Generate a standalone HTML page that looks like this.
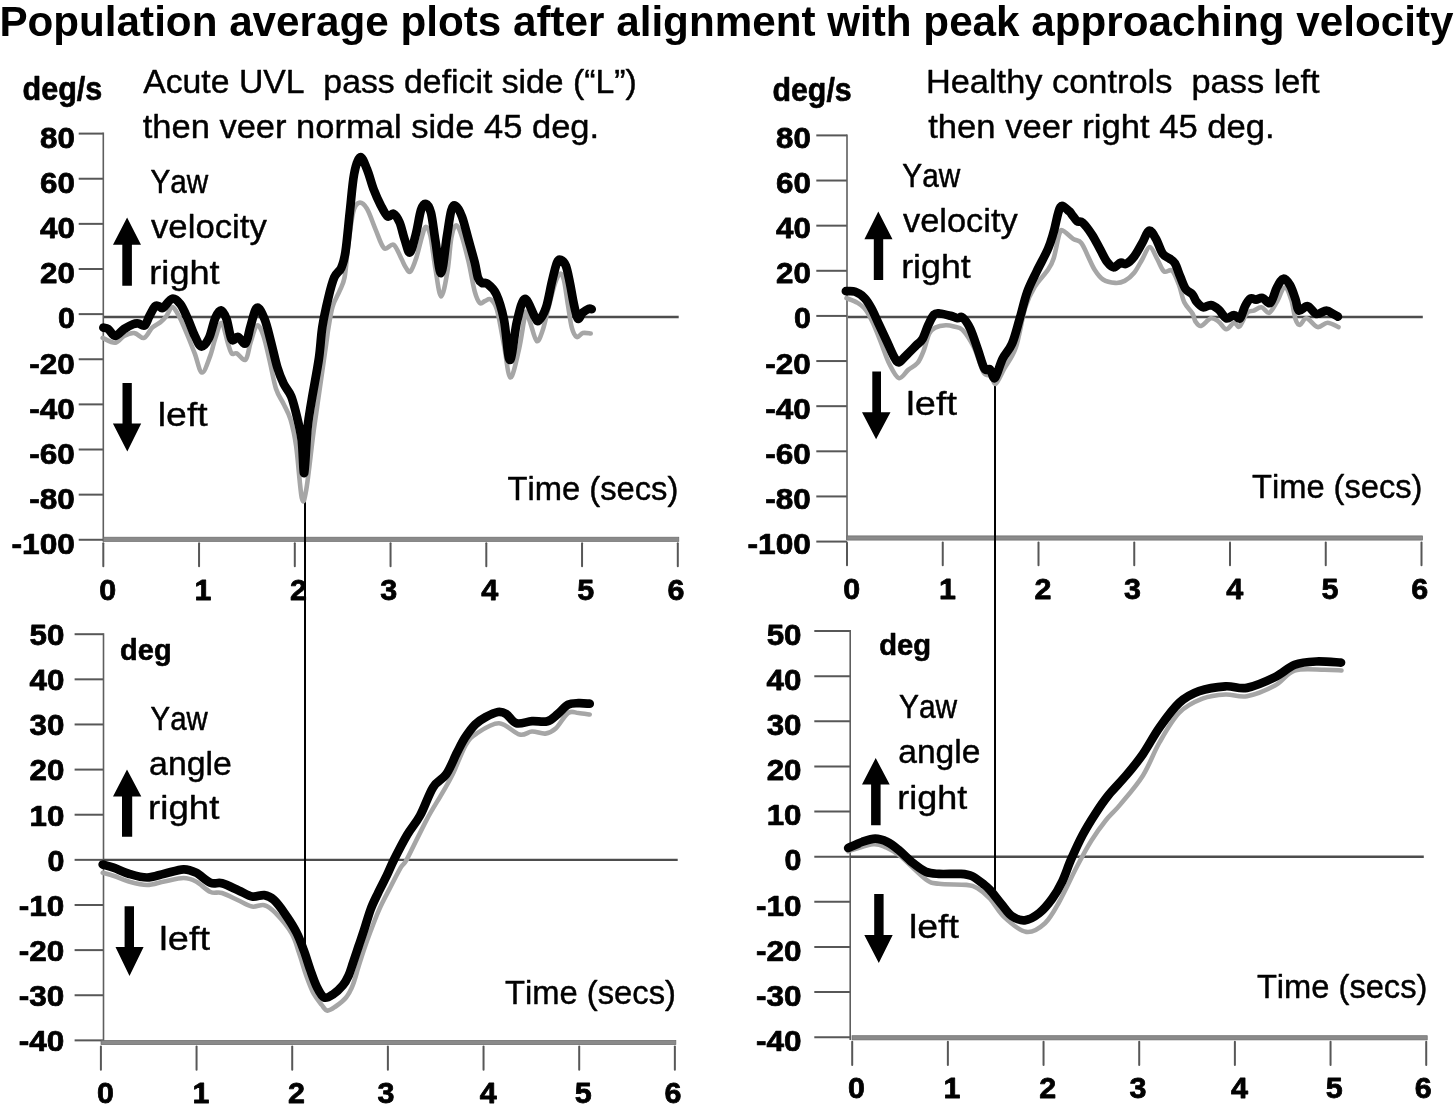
<!DOCTYPE html><html><head><meta charset="utf-8"><style>html,body{margin:0;padding:0;background:#fff;width:1455px;height:1106px;overflow:hidden}svg{display:block}text{font-family:"Liberation Sans",sans-serif;font-kerning:none;white-space:pre}</style></head><body>
<svg width="1455" height="1106" viewBox="0 0 1455 1106">
<rect width="1455" height="1106" fill="#fff"/>
<g opacity="0.999">
<line x1="78.70" y1="133.60" x2="103.30" y2="133.60" stroke="#575757" stroke-width="2"/>
<line x1="78.70" y1="178.73" x2="103.30" y2="178.73" stroke="#575757" stroke-width="2"/>
<line x1="78.70" y1="223.86" x2="103.30" y2="223.86" stroke="#575757" stroke-width="2"/>
<line x1="78.70" y1="268.99" x2="103.30" y2="268.99" stroke="#575757" stroke-width="2"/>
<line x1="78.70" y1="314.12" x2="103.30" y2="314.12" stroke="#575757" stroke-width="2"/>
<line x1="78.70" y1="359.25" x2="103.30" y2="359.25" stroke="#575757" stroke-width="2"/>
<line x1="78.70" y1="404.38" x2="103.30" y2="404.38" stroke="#575757" stroke-width="2"/>
<line x1="78.70" y1="449.51" x2="103.30" y2="449.51" stroke="#575757" stroke-width="2"/>
<line x1="78.70" y1="494.64" x2="103.30" y2="494.64" stroke="#575757" stroke-width="2"/>
<line x1="78.70" y1="539.77" x2="103.30" y2="539.77" stroke="#575757" stroke-width="2"/>
<line x1="103.30" y1="132.60" x2="103.30" y2="541.50" stroke="#5e5e5e" stroke-width="1.6"/>
<rect x="103.30" y="537.20" width="575.50" height="4.2" fill="#8a8a8a" stroke="#6a6a6a" stroke-width="0.7"/>
<line x1="103.30" y1="543.30" x2="103.30" y2="566.20" stroke="#575757" stroke-width="2" stroke-linecap="round"/>
<line x1="199.05" y1="543.30" x2="199.05" y2="566.20" stroke="#575757" stroke-width="2" stroke-linecap="round"/>
<line x1="294.80" y1="543.30" x2="294.80" y2="566.20" stroke="#575757" stroke-width="2" stroke-linecap="round"/>
<line x1="390.55" y1="543.30" x2="390.55" y2="566.20" stroke="#575757" stroke-width="2" stroke-linecap="round"/>
<line x1="486.30" y1="543.30" x2="486.30" y2="566.20" stroke="#575757" stroke-width="2" stroke-linecap="round"/>
<line x1="582.05" y1="543.30" x2="582.05" y2="566.20" stroke="#575757" stroke-width="2" stroke-linecap="round"/>
<line x1="677.80" y1="543.30" x2="677.80" y2="566.20" stroke="#575757" stroke-width="2" stroke-linecap="round"/>
<line x1="104.00" y1="317.00" x2="678.70" y2="317.00" stroke="#4d4d4d" stroke-width="2.4"/>
<text transform="translate(40.04 147.90) scale(1.0700 1)" font-size="29.28" font-weight="bold" fill="#000" stroke="#000" stroke-width="0.75" stroke-linejoin="round">80</text>
<text transform="translate(40.04 193.03) scale(1.0699 1)" font-size="29.28" font-weight="bold" fill="#000" stroke="#000" stroke-width="0.75" stroke-linejoin="round">60</text>
<text transform="translate(40.02 238.16) scale(1.0704 1)" font-size="29.28" font-weight="bold" fill="#000" stroke="#000" stroke-width="0.75" stroke-linejoin="round">40</text>
<text transform="translate(40.04 283.29) scale(1.0700 1)" font-size="29.28" font-weight="bold" fill="#000" stroke="#000" stroke-width="0.75" stroke-linejoin="round">20</text>
<text transform="translate(57.93 328.42) scale(1.0389 1)" font-size="29.28" font-weight="bold" fill="#000" stroke="#000" stroke-width="0.77" stroke-linejoin="round">0</text>
<text transform="translate(29.34 373.55) scale(1.0763 1)" font-size="29.28" font-weight="bold" fill="#000" stroke="#000" stroke-width="0.74" stroke-linejoin="round">-20</text>
<text transform="translate(29.34 418.68) scale(1.0763 1)" font-size="29.28" font-weight="bold" fill="#000" stroke="#000" stroke-width="0.74" stroke-linejoin="round">-40</text>
<text transform="translate(29.34 463.81) scale(1.0763 1)" font-size="29.28" font-weight="bold" fill="#000" stroke="#000" stroke-width="0.74" stroke-linejoin="round">-60</text>
<text transform="translate(29.34 508.94) scale(1.0763 1)" font-size="29.28" font-weight="bold" fill="#000" stroke="#000" stroke-width="0.74" stroke-linejoin="round">-80</text>
<text transform="translate(11.49 554.07) scale(1.0821 1)" font-size="29.28" font-weight="bold" fill="#000" stroke="#000" stroke-width="0.74" stroke-linejoin="round">-100</text>
<text transform="translate(99.16 599.80) scale(1.0389 1)" font-size="29.28" font-weight="bold" fill="#000" stroke="#000" stroke-width="0.77" stroke-linejoin="round">0</text>
<text transform="translate(194.62 599.80) scale(1.0376 1)" font-size="29.28" font-weight="bold" fill="#000" stroke="#000" stroke-width="0.77" stroke-linejoin="round">1</text>
<text transform="translate(290.12 599.80) scale(1.0396 1)" font-size="29.28" font-weight="bold" fill="#000" stroke="#000" stroke-width="0.77" stroke-linejoin="round">2</text>
<text transform="translate(380.22 599.80) scale(1.0413 1)" font-size="29.28" font-weight="bold" fill="#000" stroke="#000" stroke-width="0.77" stroke-linejoin="round">3</text>
<text transform="translate(481.34 599.80) scale(1.0453 1)" font-size="29.28" font-weight="bold" fill="#000" stroke="#000" stroke-width="0.77" stroke-linejoin="round">4</text>
<text transform="translate(577.18 599.80) scale(1.0414 1)" font-size="29.28" font-weight="bold" fill="#000" stroke="#000" stroke-width="0.77" stroke-linejoin="round">5</text>
<text transform="translate(667.53 599.80) scale(1.0398 1)" font-size="29.28" font-weight="bold" fill="#000" stroke="#000" stroke-width="0.77" stroke-linejoin="round">6</text>
<line x1="816.30" y1="135.40" x2="847.00" y2="135.40" stroke="#575757" stroke-width="2"/>
<line x1="816.30" y1="180.53" x2="847.00" y2="180.53" stroke="#575757" stroke-width="2"/>
<line x1="816.30" y1="225.66" x2="847.00" y2="225.66" stroke="#575757" stroke-width="2"/>
<line x1="816.30" y1="270.79" x2="847.00" y2="270.79" stroke="#575757" stroke-width="2"/>
<line x1="816.30" y1="315.92" x2="847.00" y2="315.92" stroke="#575757" stroke-width="2"/>
<line x1="816.30" y1="361.05" x2="847.00" y2="361.05" stroke="#575757" stroke-width="2"/>
<line x1="816.30" y1="406.18" x2="847.00" y2="406.18" stroke="#575757" stroke-width="2"/>
<line x1="816.30" y1="451.31" x2="847.00" y2="451.31" stroke="#575757" stroke-width="2"/>
<line x1="816.30" y1="496.44" x2="847.00" y2="496.44" stroke="#575757" stroke-width="2"/>
<line x1="816.30" y1="541.57" x2="847.00" y2="541.57" stroke="#575757" stroke-width="2"/>
<line x1="847.00" y1="134.40" x2="847.00" y2="540.00" stroke="#5e5e5e" stroke-width="1.6"/>
<rect x="847.00" y="535.90" width="575.50" height="4.2" fill="#8a8a8a" stroke="#6a6a6a" stroke-width="0.7"/>
<line x1="847.00" y1="542.50" x2="847.00" y2="565.20" stroke="#575757" stroke-width="2" stroke-linecap="round"/>
<line x1="942.75" y1="542.50" x2="942.75" y2="565.20" stroke="#575757" stroke-width="2" stroke-linecap="round"/>
<line x1="1038.50" y1="542.50" x2="1038.50" y2="565.20" stroke="#575757" stroke-width="2" stroke-linecap="round"/>
<line x1="1134.25" y1="542.50" x2="1134.25" y2="565.20" stroke="#575757" stroke-width="2" stroke-linecap="round"/>
<line x1="1230.00" y1="542.50" x2="1230.00" y2="565.20" stroke="#575757" stroke-width="2" stroke-linecap="round"/>
<line x1="1325.75" y1="542.50" x2="1325.75" y2="565.20" stroke="#575757" stroke-width="2" stroke-linecap="round"/>
<line x1="1421.50" y1="542.50" x2="1421.50" y2="565.20" stroke="#575757" stroke-width="2" stroke-linecap="round"/>
<line x1="848.00" y1="317.00" x2="1422.80" y2="317.00" stroke="#4d4d4d" stroke-width="2.4"/>
<text transform="translate(776.04 147.90) scale(1.0700 1)" font-size="29.28" font-weight="bold" fill="#000" stroke="#000" stroke-width="0.75" stroke-linejoin="round">80</text>
<text transform="translate(776.04 193.03) scale(1.0699 1)" font-size="29.28" font-weight="bold" fill="#000" stroke="#000" stroke-width="0.75" stroke-linejoin="round">60</text>
<text transform="translate(776.02 238.16) scale(1.0704 1)" font-size="29.28" font-weight="bold" fill="#000" stroke="#000" stroke-width="0.75" stroke-linejoin="round">40</text>
<text transform="translate(776.04 283.29) scale(1.0700 1)" font-size="29.28" font-weight="bold" fill="#000" stroke="#000" stroke-width="0.75" stroke-linejoin="round">20</text>
<text transform="translate(793.93 328.42) scale(1.0389 1)" font-size="29.28" font-weight="bold" fill="#000" stroke="#000" stroke-width="0.77" stroke-linejoin="round">0</text>
<text transform="translate(765.34 373.55) scale(1.0763 1)" font-size="29.28" font-weight="bold" fill="#000" stroke="#000" stroke-width="0.74" stroke-linejoin="round">-20</text>
<text transform="translate(765.34 418.68) scale(1.0763 1)" font-size="29.28" font-weight="bold" fill="#000" stroke="#000" stroke-width="0.74" stroke-linejoin="round">-40</text>
<text transform="translate(765.34 463.81) scale(1.0763 1)" font-size="29.28" font-weight="bold" fill="#000" stroke="#000" stroke-width="0.74" stroke-linejoin="round">-60</text>
<text transform="translate(765.34 508.94) scale(1.0763 1)" font-size="29.28" font-weight="bold" fill="#000" stroke="#000" stroke-width="0.74" stroke-linejoin="round">-80</text>
<text transform="translate(747.49 554.07) scale(1.0821 1)" font-size="29.28" font-weight="bold" fill="#000" stroke="#000" stroke-width="0.74" stroke-linejoin="round">-100</text>
<text transform="translate(843.16 598.70) scale(1.0389 1)" font-size="29.28" font-weight="bold" fill="#000" stroke="#000" stroke-width="0.77" stroke-linejoin="round">0</text>
<text transform="translate(939.02 598.70) scale(1.0376 1)" font-size="29.28" font-weight="bold" fill="#000" stroke="#000" stroke-width="0.77" stroke-linejoin="round">1</text>
<text transform="translate(1034.62 598.70) scale(1.0396 1)" font-size="29.28" font-weight="bold" fill="#000" stroke="#000" stroke-width="0.77" stroke-linejoin="round">2</text>
<text transform="translate(1124.12 598.70) scale(1.0413 1)" font-size="29.28" font-weight="bold" fill="#000" stroke="#000" stroke-width="0.77" stroke-linejoin="round">3</text>
<text transform="translate(1226.14 598.70) scale(1.0453 1)" font-size="29.28" font-weight="bold" fill="#000" stroke="#000" stroke-width="0.77" stroke-linejoin="round">4</text>
<text transform="translate(1321.38 598.70) scale(1.0414 1)" font-size="29.28" font-weight="bold" fill="#000" stroke="#000" stroke-width="0.77" stroke-linejoin="round">5</text>
<text transform="translate(1411.13 598.70) scale(1.0398 1)" font-size="29.28" font-weight="bold" fill="#000" stroke="#000" stroke-width="0.77" stroke-linejoin="round">6</text>
<line x1="74.60" y1="634.20" x2="103.50" y2="634.20" stroke="#575757" stroke-width="2"/>
<line x1="74.60" y1="679.33" x2="103.50" y2="679.33" stroke="#575757" stroke-width="2"/>
<line x1="74.60" y1="724.46" x2="103.50" y2="724.46" stroke="#575757" stroke-width="2"/>
<line x1="74.60" y1="769.59" x2="103.50" y2="769.59" stroke="#575757" stroke-width="2"/>
<line x1="74.60" y1="814.72" x2="103.50" y2="814.72" stroke="#575757" stroke-width="2"/>
<line x1="74.60" y1="859.85" x2="103.50" y2="859.85" stroke="#575757" stroke-width="2"/>
<line x1="74.60" y1="904.98" x2="103.50" y2="904.98" stroke="#575757" stroke-width="2"/>
<line x1="74.60" y1="950.11" x2="103.50" y2="950.11" stroke="#575757" stroke-width="2"/>
<line x1="74.60" y1="995.24" x2="103.50" y2="995.24" stroke="#575757" stroke-width="2"/>
<line x1="74.60" y1="1040.37" x2="103.50" y2="1040.37" stroke="#575757" stroke-width="2"/>
<line x1="103.50" y1="633.20" x2="103.50" y2="1044.00" stroke="#5e5e5e" stroke-width="1.6"/>
<rect x="101.00" y="1040.40" width="574.86" height="4.2" fill="#8a8a8a" stroke="#6a6a6a" stroke-width="0.7"/>
<line x1="100.90" y1="1046.50" x2="100.90" y2="1069.70" stroke="#575757" stroke-width="2" stroke-linecap="round"/>
<line x1="196.56" y1="1046.50" x2="196.56" y2="1069.70" stroke="#575757" stroke-width="2" stroke-linecap="round"/>
<line x1="292.22" y1="1046.50" x2="292.22" y2="1069.70" stroke="#575757" stroke-width="2" stroke-linecap="round"/>
<line x1="387.88" y1="1046.50" x2="387.88" y2="1069.70" stroke="#575757" stroke-width="2" stroke-linecap="round"/>
<line x1="483.54" y1="1046.50" x2="483.54" y2="1069.70" stroke="#575757" stroke-width="2" stroke-linecap="round"/>
<line x1="579.20" y1="1046.50" x2="579.20" y2="1069.70" stroke="#575757" stroke-width="2" stroke-linecap="round"/>
<line x1="674.86" y1="1046.50" x2="674.86" y2="1069.70" stroke="#575757" stroke-width="2" stroke-linecap="round"/>
<line x1="103.50" y1="859.90" x2="677.70" y2="859.90" stroke="#4d4d4d" stroke-width="2.4"/>
<text transform="translate(29.54 645.00) scale(1.0701 1)" font-size="29.28" font-weight="bold" fill="#000" stroke="#000" stroke-width="0.75" stroke-linejoin="round">50</text>
<text transform="translate(29.52 690.13) scale(1.0704 1)" font-size="29.28" font-weight="bold" fill="#000" stroke="#000" stroke-width="0.75" stroke-linejoin="round">40</text>
<text transform="translate(29.53 735.26) scale(1.0702 1)" font-size="29.28" font-weight="bold" fill="#000" stroke="#000" stroke-width="0.75" stroke-linejoin="round">30</text>
<text transform="translate(29.54 780.39) scale(1.0700 1)" font-size="29.28" font-weight="bold" fill="#000" stroke="#000" stroke-width="0.75" stroke-linejoin="round">20</text>
<text transform="translate(29.56 825.52) scale(1.0692 1)" font-size="29.28" font-weight="bold" fill="#000" stroke="#000" stroke-width="0.75" stroke-linejoin="round">10</text>
<text transform="translate(47.43 870.65) scale(1.0389 1)" font-size="29.28" font-weight="bold" fill="#000" stroke="#000" stroke-width="0.77" stroke-linejoin="round">0</text>
<text transform="translate(18.84 915.78) scale(1.0763 1)" font-size="29.28" font-weight="bold" fill="#000" stroke="#000" stroke-width="0.74" stroke-linejoin="round">-10</text>
<text transform="translate(18.84 960.91) scale(1.0763 1)" font-size="29.28" font-weight="bold" fill="#000" stroke="#000" stroke-width="0.74" stroke-linejoin="round">-20</text>
<text transform="translate(18.84 1006.04) scale(1.0763 1)" font-size="29.28" font-weight="bold" fill="#000" stroke="#000" stroke-width="0.74" stroke-linejoin="round">-30</text>
<text transform="translate(18.84 1051.17) scale(1.0763 1)" font-size="29.28" font-weight="bold" fill="#000" stroke="#000" stroke-width="0.74" stroke-linejoin="round">-40</text>
<text transform="translate(96.96 1102.50) scale(1.0389 1)" font-size="29.28" font-weight="bold" fill="#000" stroke="#000" stroke-width="0.77" stroke-linejoin="round">0</text>
<text transform="translate(192.42 1102.50) scale(1.0376 1)" font-size="29.28" font-weight="bold" fill="#000" stroke="#000" stroke-width="0.77" stroke-linejoin="round">1</text>
<text transform="translate(288.02 1102.50) scale(1.0396 1)" font-size="29.28" font-weight="bold" fill="#000" stroke="#000" stroke-width="0.77" stroke-linejoin="round">2</text>
<text transform="translate(377.52 1102.50) scale(1.0413 1)" font-size="29.28" font-weight="bold" fill="#000" stroke="#000" stroke-width="0.77" stroke-linejoin="round">3</text>
<text transform="translate(479.64 1102.50) scale(1.0453 1)" font-size="29.28" font-weight="bold" fill="#000" stroke="#000" stroke-width="0.77" stroke-linejoin="round">4</text>
<text transform="translate(574.78 1102.50) scale(1.0414 1)" font-size="29.28" font-weight="bold" fill="#000" stroke="#000" stroke-width="0.77" stroke-linejoin="round">5</text>
<text transform="translate(664.53 1102.50) scale(1.0398 1)" font-size="29.28" font-weight="bold" fill="#000" stroke="#000" stroke-width="0.77" stroke-linejoin="round">6</text>
<line x1="814.30" y1="631.00" x2="850.20" y2="631.00" stroke="#575757" stroke-width="2"/>
<line x1="814.30" y1="676.13" x2="850.20" y2="676.13" stroke="#575757" stroke-width="2"/>
<line x1="814.30" y1="721.26" x2="850.20" y2="721.26" stroke="#575757" stroke-width="2"/>
<line x1="814.30" y1="766.39" x2="850.20" y2="766.39" stroke="#575757" stroke-width="2"/>
<line x1="814.30" y1="811.52" x2="850.20" y2="811.52" stroke="#575757" stroke-width="2"/>
<line x1="814.30" y1="856.65" x2="850.20" y2="856.65" stroke="#575757" stroke-width="2"/>
<line x1="814.30" y1="901.78" x2="850.20" y2="901.78" stroke="#575757" stroke-width="2"/>
<line x1="814.30" y1="946.91" x2="850.20" y2="946.91" stroke="#575757" stroke-width="2"/>
<line x1="814.30" y1="992.04" x2="850.20" y2="992.04" stroke="#575757" stroke-width="2"/>
<line x1="814.30" y1="1037.17" x2="850.20" y2="1037.17" stroke="#575757" stroke-width="2"/>
<line x1="850.20" y1="630.00" x2="850.20" y2="1040.00" stroke="#5e5e5e" stroke-width="1.6"/>
<rect x="852.00" y="1035.70" width="575.22" height="4.2" fill="#8a8a8a" stroke="#6a6a6a" stroke-width="0.7"/>
<line x1="852.20" y1="1041.80" x2="852.20" y2="1064.90" stroke="#575757" stroke-width="2" stroke-linecap="round"/>
<line x1="947.87" y1="1041.80" x2="947.87" y2="1064.90" stroke="#575757" stroke-width="2" stroke-linecap="round"/>
<line x1="1043.54" y1="1041.80" x2="1043.54" y2="1064.90" stroke="#575757" stroke-width="2" stroke-linecap="round"/>
<line x1="1139.21" y1="1041.80" x2="1139.21" y2="1064.90" stroke="#575757" stroke-width="2" stroke-linecap="round"/>
<line x1="1234.88" y1="1041.80" x2="1234.88" y2="1064.90" stroke="#575757" stroke-width="2" stroke-linecap="round"/>
<line x1="1330.55" y1="1041.80" x2="1330.55" y2="1064.90" stroke="#575757" stroke-width="2" stroke-linecap="round"/>
<line x1="1426.22" y1="1041.80" x2="1426.22" y2="1064.90" stroke="#575757" stroke-width="2" stroke-linecap="round"/>
<line x1="850.00" y1="856.80" x2="1423.80" y2="856.80" stroke="#4d4d4d" stroke-width="2.4"/>
<text transform="translate(766.64 644.80) scale(1.0701 1)" font-size="29.28" font-weight="bold" fill="#000" stroke="#000" stroke-width="0.75" stroke-linejoin="round">50</text>
<text transform="translate(766.62 689.93) scale(1.0704 1)" font-size="29.28" font-weight="bold" fill="#000" stroke="#000" stroke-width="0.75" stroke-linejoin="round">40</text>
<text transform="translate(766.63 735.06) scale(1.0702 1)" font-size="29.28" font-weight="bold" fill="#000" stroke="#000" stroke-width="0.75" stroke-linejoin="round">30</text>
<text transform="translate(766.64 780.19) scale(1.0700 1)" font-size="29.28" font-weight="bold" fill="#000" stroke="#000" stroke-width="0.75" stroke-linejoin="round">20</text>
<text transform="translate(766.66 825.32) scale(1.0692 1)" font-size="29.28" font-weight="bold" fill="#000" stroke="#000" stroke-width="0.75" stroke-linejoin="round">10</text>
<text transform="translate(784.53 870.45) scale(1.0389 1)" font-size="29.28" font-weight="bold" fill="#000" stroke="#000" stroke-width="0.77" stroke-linejoin="round">0</text>
<text transform="translate(755.94 915.58) scale(1.0763 1)" font-size="29.28" font-weight="bold" fill="#000" stroke="#000" stroke-width="0.74" stroke-linejoin="round">-10</text>
<text transform="translate(755.94 960.71) scale(1.0763 1)" font-size="29.28" font-weight="bold" fill="#000" stroke="#000" stroke-width="0.74" stroke-linejoin="round">-20</text>
<text transform="translate(755.94 1005.84) scale(1.0763 1)" font-size="29.28" font-weight="bold" fill="#000" stroke="#000" stroke-width="0.74" stroke-linejoin="round">-30</text>
<text transform="translate(755.94 1050.97) scale(1.0763 1)" font-size="29.28" font-weight="bold" fill="#000" stroke="#000" stroke-width="0.74" stroke-linejoin="round">-40</text>
<text transform="translate(847.96 1098.10) scale(1.0389 1)" font-size="29.28" font-weight="bold" fill="#000" stroke="#000" stroke-width="0.77" stroke-linejoin="round">0</text>
<text transform="translate(943.62 1098.10) scale(1.0376 1)" font-size="29.28" font-weight="bold" fill="#000" stroke="#000" stroke-width="0.77" stroke-linejoin="round">1</text>
<text transform="translate(1039.32 1098.10) scale(1.0396 1)" font-size="29.28" font-weight="bold" fill="#000" stroke="#000" stroke-width="0.77" stroke-linejoin="round">2</text>
<text transform="translate(1129.62 1098.10) scale(1.0413 1)" font-size="29.28" font-weight="bold" fill="#000" stroke="#000" stroke-width="0.77" stroke-linejoin="round">3</text>
<text transform="translate(1230.94 1098.10) scale(1.0453 1)" font-size="29.28" font-weight="bold" fill="#000" stroke="#000" stroke-width="0.77" stroke-linejoin="round">4</text>
<text transform="translate(1325.68 1098.10) scale(1.0414 1)" font-size="29.28" font-weight="bold" fill="#000" stroke="#000" stroke-width="0.77" stroke-linejoin="round">5</text>
<text transform="translate(1414.73 1098.10) scale(1.0398 1)" font-size="29.28" font-weight="bold" fill="#000" stroke="#000" stroke-width="0.77" stroke-linejoin="round">6</text>
<line x1="305.00" y1="492.00" x2="305.00" y2="959.00" stroke="#000" stroke-width="2"/>
<line x1="995.00" y1="380.00" x2="995.00" y2="890.00" stroke="#000" stroke-width="2"/>
<path d="M102.70 337.90 C104.77 338.70 111.53 343.03 115.10 342.70 C118.67 342.37 120.88 337.50 124.10 335.90 C127.32 334.30 131.08 332.77 134.40 333.10 C137.72 333.43 141.03 338.82 144.00 337.90 C146.97 336.98 149.45 330.23 152.20 327.60 C154.95 324.97 158.20 323.93 160.50 322.10 C162.80 320.27 164.05 319.12 166.00 316.60 C167.95 314.08 170.25 307.45 172.20 307.00 C174.15 306.55 175.98 311.15 177.70 313.90 C179.42 316.65 180.78 319.73 182.50 323.50 C184.22 327.27 185.95 331.47 188.00 336.50 C190.05 341.53 192.47 347.70 194.80 353.70 C197.13 359.70 199.43 372.13 202.00 372.50 C204.57 372.87 207.98 361.62 210.20 355.90 C212.42 350.18 213.40 343.68 215.30 338.20 C217.20 332.72 219.50 322.17 221.60 323.00 C223.70 323.83 226.22 338.13 227.90 343.20 C229.58 348.27 230.22 351.70 231.70 353.40 C233.18 355.10 234.48 352.35 236.80 353.40 C239.12 354.45 243.28 361.60 245.60 359.70 C247.92 357.80 248.80 347.70 250.70 342.00 C252.60 336.30 254.88 326.57 257.00 325.50 C259.12 324.43 261.28 329.68 263.40 335.60 C265.52 341.52 267.60 352.13 269.70 361.00 C271.80 369.87 273.68 381.63 276.00 388.80 C278.32 395.97 281.18 398.90 283.60 404.00 C286.02 409.10 288.40 412.32 290.50 419.40 C292.60 426.48 294.32 433.40 296.20 446.50 C298.08 459.60 300.12 490.85 301.80 498.00 C303.48 505.15 304.42 499.87 306.30 489.40 C308.18 478.93 311.35 448.58 313.10 435.20 C314.85 421.82 314.62 424.30 316.80 409.10 C318.98 393.90 324.28 357.38 326.20 344.00 C328.12 330.62 327.23 335.05 328.30 328.80 C329.37 322.55 330.73 312.78 332.60 306.50 C334.47 300.22 337.50 295.97 339.50 291.10 C341.50 286.23 343.17 284.75 344.60 277.30 C346.03 269.85 346.67 257.27 348.10 246.40 C349.53 235.53 351.35 219.38 353.20 212.10 C355.05 204.82 356.90 203.27 359.20 202.70 C361.50 202.13 364.28 204.27 367.00 208.70 C369.72 213.13 372.65 222.72 375.50 229.30 C378.35 235.88 381.08 245.63 384.10 248.20 C387.12 250.77 390.73 242.98 393.60 244.70 C396.47 246.42 399.32 254.78 401.30 258.50 C403.28 262.22 403.98 264.83 405.50 267.00 C407.02 269.17 408.57 273.13 410.40 271.50 C412.23 269.87 414.53 263.17 416.50 257.20 C418.47 251.23 420.63 240.77 422.20 235.70 C423.77 230.63 424.53 226.80 425.90 226.80 C427.27 226.80 428.82 228.73 430.40 235.70 C431.98 242.67 433.62 258.47 435.40 268.60 C437.18 278.73 439.08 296.08 441.10 296.50 C443.12 296.92 445.80 280.82 447.50 271.10 C449.20 261.38 449.93 245.78 451.30 238.20 C452.67 230.62 454.12 226.43 455.70 225.60 C457.28 224.77 458.68 227.30 460.80 233.20 C462.92 239.10 466.08 251.30 468.40 261.00 C470.72 270.70 472.78 284.38 474.70 291.40 C476.62 298.42 478.18 301.50 479.90 303.10 C481.62 304.70 483.18 301.60 485.00 301.00 C486.82 300.40 488.80 298.03 490.80 299.50 C492.80 300.97 494.80 302.22 497.00 309.80 C499.20 317.38 501.77 333.72 504.00 345.00 C506.23 356.28 507.92 376.73 510.40 377.50 C512.88 378.27 516.67 358.90 518.90 349.60 C521.13 340.30 522.65 328.05 523.80 321.70 C524.95 315.35 524.77 311.45 525.80 311.50 C526.83 311.55 528.18 317.08 530.00 322.00 C531.82 326.92 534.62 339.53 536.70 341.00 C538.78 342.47 540.62 336.02 542.50 330.80 C544.38 325.58 545.93 317.53 548.00 309.70 C550.07 301.87 552.92 289.78 554.90 283.80 C556.88 277.82 558.40 274.47 559.90 273.80 C561.40 273.13 562.57 274.65 563.90 279.80 C565.23 284.95 566.58 296.73 567.90 304.70 C569.22 312.67 570.32 322.22 571.80 327.60 C573.28 332.98 574.97 336.10 576.80 337.00 C578.63 337.90 580.48 333.58 582.80 333.00 C585.12 332.42 589.38 333.42 590.70 333.50" fill="none" stroke="#a6a6a6" stroke-width="4.60" stroke-linecap="round" stroke-linejoin="round"/>
<path d="M103.40 327.60 C104.20 327.83 106.25 327.62 108.20 329.00 C110.15 330.38 112.45 335.90 115.10 335.90 C117.75 335.90 121.12 330.95 124.10 329.00 C127.08 327.05 130.60 325.12 133.00 324.20 C135.40 323.28 136.55 323.28 138.50 323.50 C140.45 323.72 142.87 326.77 144.70 325.50 C146.53 324.23 147.78 319.10 149.50 315.90 C151.22 312.70 153.40 307.90 155.00 306.30 C156.60 304.70 157.73 306.07 159.10 306.30 C160.47 306.53 161.02 308.97 163.20 307.70 C165.38 306.43 169.33 299.28 172.20 298.70 C175.07 298.12 177.77 300.75 180.40 304.20 C183.03 307.65 185.60 314.12 188.00 319.40 C190.40 324.68 192.58 331.38 194.80 335.90 C197.02 340.42 198.95 346.12 201.30 346.50 C203.65 346.88 206.57 342.97 208.90 338.20 C211.23 333.43 213.28 322.55 215.30 317.90 C217.32 313.25 219.12 310.08 221.00 310.30 C222.88 310.52 224.82 314.35 226.60 319.20 C228.38 324.05 229.80 336.45 231.70 339.40 C233.60 342.35 235.68 336.27 238.00 336.90 C240.32 337.53 243.48 345.10 245.60 343.20 C247.72 341.30 248.80 331.40 250.70 325.50 C252.60 319.60 254.68 308.85 257.00 307.80 C259.32 306.75 262.27 313.50 264.60 319.20 C266.93 324.90 268.88 333.98 271.00 342.00 C273.12 350.02 275.20 360.35 277.30 367.30 C279.40 374.25 281.28 378.85 283.60 383.70 C285.92 388.55 288.92 390.65 291.20 396.40 C293.48 402.15 295.53 410.80 297.30 418.20 C299.07 425.60 300.65 431.67 301.80 440.80 C302.95 449.93 303.25 475.13 304.20 473.00 C305.15 470.87 306.25 440.17 307.50 428.00 C308.75 415.83 309.80 411.58 311.70 400.00 C313.60 388.42 317.13 370.65 318.90 358.50 C320.67 346.35 320.73 337.20 322.30 327.10 C323.87 317.00 326.30 306.20 328.30 297.90 C330.30 289.60 332.15 282.30 334.30 277.30 C336.45 272.30 339.33 272.18 341.20 267.90 C343.07 263.62 344.07 260.90 345.50 251.60 C346.93 242.30 348.37 224.98 349.80 212.10 C351.23 199.22 352.38 183.45 354.10 174.30 C355.82 165.15 357.95 158.05 360.10 157.20 C362.25 156.35 364.72 163.77 367.00 169.20 C369.28 174.63 371.52 183.80 373.80 189.80 C376.08 195.80 378.40 200.77 380.70 205.20 C383.00 209.63 385.45 214.97 387.60 216.40 C389.75 217.83 391.60 212.80 393.60 213.80 C395.60 214.80 397.75 218.10 399.60 222.40 C401.45 226.70 402.98 234.60 404.70 239.60 C406.42 244.60 408.02 253.42 409.90 252.40 C411.78 251.38 414.15 240.57 416.00 233.50 C417.85 226.43 419.35 214.92 421.00 210.00 C422.65 205.08 424.23 203.52 425.90 204.00 C427.57 204.48 429.42 206.77 431.00 212.90 C432.58 219.03 433.72 230.78 435.40 240.80 C437.08 250.82 439.20 273.63 441.10 273.00 C443.00 272.37 445.10 247.43 446.80 237.00 C448.50 226.57 449.82 215.57 451.30 210.40 C452.78 205.23 453.92 204.95 455.70 206.00 C457.48 207.05 459.88 211.12 462.00 216.70 C464.12 222.28 466.28 231.90 468.40 239.50 C470.52 247.10 473.08 255.88 474.70 262.30 C476.32 268.72 476.88 274.55 478.10 278.00 C479.32 281.45 480.50 282.08 482.00 283.00 C483.50 283.92 484.73 281.67 487.10 283.50 C489.47 285.33 493.38 287.95 496.20 294.00 C499.02 300.05 501.72 308.80 504.00 319.80 C506.28 330.80 507.75 359.68 509.90 360.00 C512.05 360.32 514.42 331.87 516.90 321.70 C519.38 311.53 521.82 299.82 524.80 299.00 C527.78 298.18 532.48 313.22 534.80 316.80 C537.12 320.38 536.83 322.02 538.70 320.50 C540.57 318.98 543.80 314.15 546.00 307.70 C548.20 301.25 550.08 289.27 551.90 281.80 C553.72 274.33 555.40 266.55 556.90 262.90 C558.40 259.25 559.40 259.40 560.90 259.90 C562.40 260.40 564.40 262.08 565.90 265.90 C567.40 269.72 568.58 276.50 569.90 282.80 C571.22 289.10 572.48 297.73 573.80 303.70 C575.12 309.67 576.30 317.12 577.80 318.60 C579.30 320.08 580.97 314.25 582.80 312.60 C584.63 310.95 587.32 309.27 588.80 308.70 C590.28 308.13 591.22 309.12 591.70 309.20" fill="none" stroke="#000" stroke-width="8.70" stroke-linecap="round" stroke-linejoin="round"/>
<path d="M102.70 872.80 C104.62 873.33 109.87 874.55 114.20 876.00 C118.53 877.45 123.23 880.00 128.70 881.50 C134.17 883.00 141.07 885.00 147.00 885.00 C152.93 885.00 158.22 882.67 164.30 881.50 C170.38 880.33 178.22 878.00 183.50 878.00 C188.78 878.00 191.50 879.17 196.00 881.50 C200.50 883.83 206.17 890.08 210.50 892.00 C214.83 893.92 217.32 891.58 222.00 893.00 C226.68 894.42 233.58 898.23 238.60 900.50 C243.62 902.77 247.82 905.82 252.10 906.60 C256.38 907.38 260.45 904.18 264.30 905.20 C268.15 906.22 270.65 908.02 275.20 912.70 C279.75 917.38 287.63 926.62 291.60 933.30 C295.57 939.98 296.55 945.75 299.00 952.80 C301.45 959.85 303.87 968.82 306.30 975.60 C308.73 982.38 311.03 988.62 313.60 993.50 C316.17 998.38 319.40 1002.05 321.70 1004.90 C324.00 1007.75 325.08 1010.33 327.40 1010.60 C329.72 1010.87 332.48 1008.68 335.60 1006.50 C338.72 1004.32 343.25 1001.03 346.10 997.50 C348.95 993.97 350.67 990.32 352.70 985.30 C354.73 980.28 356.42 973.37 358.30 967.40 C360.18 961.43 362.00 955.40 364.00 949.50 C366.00 943.60 367.75 938.72 370.30 932.00 C372.85 925.28 376.10 916.38 379.30 909.20 C382.50 902.02 385.88 895.90 389.50 888.90 C393.12 881.90 398.07 872.20 401.00 867.20 C403.93 862.20 402.83 866.80 407.10 858.90 C411.37 851.00 420.82 830.65 426.60 819.80 C432.38 808.95 437.45 801.38 441.80 793.80 C446.15 786.22 448.72 782.43 452.70 774.30 C456.68 766.17 461.72 751.80 465.70 745.00 C469.68 738.20 471.05 737.12 476.60 733.50 C482.15 729.88 491.83 723.12 499.00 723.30 C506.17 723.48 514.10 733.23 519.60 734.60 C525.10 735.97 527.70 731.67 532.00 731.50 C536.30 731.33 541.45 734.10 545.40 733.60 C549.35 733.10 551.92 731.93 555.70 728.50 C559.48 725.07 564.32 715.58 568.10 713.00 C571.88 710.42 574.80 712.75 578.40 713.00 C582.00 713.25 587.82 714.25 589.70 714.50" fill="none" stroke="#a6a6a6" stroke-width="4.60" stroke-linecap="round" stroke-linejoin="round"/>
<path d="M102.70 864.50 C104.62 865.07 109.87 866.37 114.20 867.90 C118.53 869.43 123.23 872.10 128.70 873.70 C134.17 875.30 141.07 877.50 147.00 877.50 C152.93 877.50 158.22 875.07 164.30 873.70 C170.38 872.33 178.22 869.47 183.50 869.30 C188.78 869.13 191.50 870.45 196.00 872.70 C200.50 874.95 206.17 881.03 210.50 882.80 C214.83 884.57 217.32 882.03 222.00 883.30 C226.68 884.57 233.58 888.20 238.60 890.40 C243.62 892.60 247.82 895.72 252.10 896.50 C256.38 897.28 260.68 894.55 264.30 895.10 C267.92 895.65 270.40 896.75 273.80 899.80 C277.20 902.85 280.92 907.97 284.70 913.40 C288.48 918.83 293.32 926.25 296.50 932.40 C299.68 938.55 301.50 944.05 303.80 950.30 C306.10 956.55 308.12 963.78 310.30 969.90 C312.48 976.02 314.58 982.40 316.90 987.00 C319.22 991.60 321.50 996.28 324.20 997.50 C326.90 998.72 329.98 996.33 333.10 994.30 C336.22 992.27 340.32 988.42 342.90 985.30 C345.48 982.18 346.92 979.32 348.60 975.60 C350.28 971.88 351.35 967.85 353.00 963.00 C354.65 958.15 356.63 952.05 358.50 946.50 C360.37 940.95 362.17 935.92 364.20 929.70 C366.23 923.48 368.42 915.27 370.70 909.20 C372.98 903.13 375.25 898.85 377.90 893.30 C380.55 887.75 383.90 881.53 386.60 875.90 C389.30 870.27 390.68 866.32 394.10 859.50 C397.52 852.68 402.77 842.33 407.10 835.00 C411.43 827.67 415.77 823.45 420.10 815.50 C424.43 807.55 428.75 794.17 433.10 787.30 C437.45 780.43 442.22 780.08 446.20 774.30 C450.18 768.52 453.87 758.70 457.00 752.60 C460.13 746.50 461.95 742.42 465.00 737.70 C468.05 732.98 471.87 727.73 475.30 724.30 C478.73 720.87 481.82 719.15 485.60 717.10 C489.38 715.05 494.57 712.52 498.00 712.00 C501.43 711.48 503.12 712.12 506.20 714.00 C509.28 715.88 512.20 722.10 516.50 723.30 C520.80 724.50 526.83 721.55 532.00 721.20 C537.17 720.85 543.20 722.40 547.50 721.20 C551.80 720.00 554.37 716.75 557.80 714.00 C561.23 711.25 564.67 706.50 568.10 704.70 C571.53 702.90 574.80 703.37 578.40 703.20 C582.00 703.03 587.82 703.62 589.70 703.70" fill="none" stroke="#000" stroke-width="8.70" stroke-linecap="round" stroke-linejoin="round"/>
<path d="M846.50 298.20 C848.35 298.98 854.37 300.93 857.60 302.90 C860.83 304.87 863.35 306.67 865.90 310.00 C868.45 313.33 870.37 317.42 872.90 322.90 C875.43 328.38 878.35 336.05 881.10 342.90 C883.85 349.75 886.45 358.13 889.40 364.00 C892.35 369.87 895.67 377.12 898.80 378.10 C901.93 379.08 905.07 372.43 908.20 369.90 C911.33 367.37 915.05 366.03 917.60 362.90 C920.15 359.77 921.55 356.00 923.50 351.10 C925.45 346.20 927.35 337.42 929.30 333.50 C931.25 329.58 932.45 328.98 935.20 327.60 C937.95 326.22 942.67 325.38 945.80 325.20 C948.93 325.02 951.20 325.70 954.00 326.50 C956.80 327.30 959.27 326.48 962.60 330.00 C965.93 333.52 970.52 340.55 974.00 347.60 C977.48 354.65 980.65 367.55 983.50 372.30 C986.35 377.05 989.05 374.20 991.10 376.10 C993.15 378.00 993.58 384.97 995.80 383.70 C998.02 382.43 1001.07 374.52 1004.40 368.50 C1007.73 362.48 1012.33 357.73 1015.80 347.60 C1019.27 337.47 1022.05 317.83 1025.20 307.70 C1028.35 297.57 1030.90 293.13 1034.70 286.80 C1038.50 280.47 1044.83 274.45 1048.00 269.70 C1051.17 264.95 1051.80 264.30 1053.70 258.30 C1055.60 252.30 1057.82 238.28 1059.40 233.70 C1060.98 229.12 1060.92 229.95 1063.20 230.80 C1065.48 231.65 1070.08 236.78 1073.10 238.80 C1076.12 240.82 1078.80 239.95 1081.30 242.90 C1083.80 245.85 1085.85 251.98 1088.10 256.50 C1090.35 261.02 1092.32 266.17 1094.80 270.00 C1097.28 273.83 1099.60 277.35 1103.00 279.50 C1106.40 281.65 1111.58 282.67 1115.20 282.90 C1118.82 283.13 1121.53 282.58 1124.70 280.90 C1127.87 279.22 1131.27 276.42 1134.20 272.80 C1137.13 269.18 1139.70 263.50 1142.30 259.20 C1144.90 254.90 1147.30 247.00 1149.80 247.00 C1152.30 247.00 1154.93 255.13 1157.30 259.20 C1159.67 263.27 1161.52 269.48 1164.00 271.40 C1166.48 273.32 1169.70 268.43 1172.20 270.70 C1174.70 272.97 1176.97 279.68 1179.00 285.00 C1181.03 290.32 1182.15 297.85 1184.40 302.60 C1186.65 307.35 1190.65 310.33 1192.50 313.50 C1194.35 316.67 1194.08 319.52 1195.50 321.60 C1196.92 323.68 1198.43 326.55 1201.00 326.00 C1203.57 325.45 1207.97 319.03 1210.90 318.30 C1213.83 317.57 1216.03 319.77 1218.60 321.60 C1221.17 323.43 1223.73 329.12 1226.30 329.30 C1228.87 329.48 1231.80 323.17 1234.00 322.70 C1236.20 322.23 1237.30 328.15 1239.50 326.50 C1241.70 324.85 1244.82 315.45 1247.20 312.80 C1249.58 310.15 1251.42 311.52 1253.80 310.60 C1256.18 309.68 1258.93 306.93 1261.50 307.30 C1264.07 307.67 1266.63 313.72 1269.20 312.80 C1271.77 311.88 1274.33 306.02 1276.90 301.80 C1279.47 297.58 1282.22 287.87 1284.60 287.50 C1286.98 287.13 1289.37 294.28 1291.20 299.60 C1293.03 304.92 1294.13 315.18 1295.60 319.40 C1297.07 323.62 1298.17 325.08 1300.00 324.90 C1301.83 324.72 1303.67 317.93 1306.60 318.30 C1309.53 318.67 1314.12 326.37 1317.60 327.10 C1321.08 327.83 1324.02 322.70 1327.50 322.70 C1330.98 322.70 1336.67 326.37 1338.50 327.10" fill="none" stroke="#a6a6a6" stroke-width="4.60" stroke-linecap="round" stroke-linejoin="round"/>
<path d="M845.90 291.20 C847.47 291.28 852.17 290.53 855.30 291.70 C858.43 292.87 861.97 295.35 864.70 298.20 C867.43 301.05 869.35 304.48 871.70 308.80 C874.05 313.12 876.25 318.62 878.80 324.10 C881.35 329.58 884.45 336.22 887.00 341.70 C889.55 347.18 892.13 353.57 894.10 357.00 C896.07 360.43 896.85 362.50 898.80 362.30 C900.75 362.10 902.87 358.65 905.80 355.80 C908.73 352.95 913.65 347.95 916.40 345.20 C919.15 342.45 920.33 342.63 922.30 339.30 C924.27 335.97 926.25 329.30 928.20 325.20 C930.15 321.10 932.05 316.65 934.00 314.70 C935.95 312.75 937.15 313.32 939.90 313.50 C942.65 313.68 947.57 315.02 950.50 315.80 C953.43 316.58 955.48 317.92 957.50 318.20 C959.52 318.48 960.48 315.77 962.60 317.50 C964.72 319.23 967.67 323.27 970.20 328.60 C972.73 333.93 975.43 342.85 977.80 349.50 C980.17 356.15 982.35 365.18 984.40 368.50 C986.45 371.82 988.35 367.82 990.10 369.40 C991.85 370.98 992.83 379.73 994.90 378.00 C996.97 376.27 999.65 364.70 1002.50 359.00 C1005.35 353.30 1009.15 350.45 1012.00 343.80 C1014.85 337.15 1017.08 327.65 1019.60 319.10 C1022.12 310.55 1024.27 300.42 1027.10 292.50 C1029.93 284.58 1033.12 278.87 1036.60 271.60 C1040.08 264.33 1045.15 255.53 1048.00 248.90 C1050.85 242.27 1051.63 238.77 1053.70 231.80 C1055.77 224.83 1057.87 210.57 1060.40 207.10 C1062.93 203.63 1067.00 209.78 1068.90 211.00 C1070.80 212.22 1070.42 212.70 1071.80 214.40 C1073.18 216.10 1075.40 219.83 1077.20 221.20 C1079.00 222.57 1080.12 220.33 1082.60 222.60 C1085.08 224.87 1089.15 230.28 1092.10 234.80 C1095.05 239.32 1097.80 245.18 1100.30 249.70 C1102.80 254.22 1104.85 258.97 1107.10 261.90 C1109.35 264.83 1111.55 267.18 1113.80 267.30 C1116.05 267.42 1118.57 263.17 1120.60 262.60 C1122.63 262.03 1123.73 264.92 1126.00 263.90 C1128.27 262.88 1131.48 260.00 1134.20 256.50 C1136.92 253.00 1139.82 247.20 1142.30 242.90 C1144.78 238.60 1146.83 231.38 1149.10 230.70 C1151.37 230.02 1153.63 234.95 1155.90 238.80 C1158.17 242.65 1160.43 250.52 1162.70 253.80 C1164.97 257.08 1167.47 256.92 1169.50 258.50 C1171.53 260.08 1173.10 260.25 1174.90 263.30 C1176.70 266.35 1178.50 272.52 1180.30 276.80 C1182.10 281.08 1183.67 286.05 1185.70 289.00 C1187.73 291.95 1190.68 292.37 1192.50 294.50 C1194.32 296.63 1194.82 299.67 1196.60 301.80 C1198.38 303.93 1200.82 306.75 1203.20 307.30 C1205.58 307.85 1208.33 304.73 1210.90 305.10 C1213.47 305.47 1216.03 307.30 1218.60 309.50 C1221.17 311.70 1223.73 317.38 1226.30 318.30 C1228.87 319.22 1231.72 315.00 1234.00 315.00 C1236.28 315.00 1238.17 319.77 1240.00 318.30 C1241.83 316.83 1243.25 309.50 1245.00 306.20 C1246.75 302.90 1248.67 299.60 1250.50 298.50 C1252.33 297.40 1253.98 299.70 1256.00 299.60 C1258.02 299.50 1260.22 297.35 1262.60 297.90 C1264.98 298.45 1267.92 304.63 1270.30 302.90 C1272.68 301.17 1274.70 291.53 1276.90 287.50 C1279.10 283.47 1281.30 279.07 1283.50 278.70 C1285.70 278.33 1288.08 281.82 1290.10 285.30 C1292.12 288.78 1294.13 295.38 1295.60 299.60 C1297.07 303.82 1296.88 309.50 1298.90 310.60 C1300.92 311.70 1304.77 305.65 1307.70 306.20 C1310.63 306.75 1313.38 313.17 1316.50 313.90 C1319.62 314.63 1323.65 310.60 1326.40 310.60 C1329.15 310.60 1331.08 312.90 1333.00 313.90 C1334.92 314.90 1337.08 316.15 1337.90 316.60" fill="none" stroke="#000" stroke-width="8.70" stroke-linecap="round" stroke-linejoin="round"/>
<path d="M848.20 851.30 C852.33 850.12 866.67 844.83 873.00 844.20 C879.33 843.57 881.62 845.48 886.20 847.50 C890.78 849.52 893.90 850.98 900.50 856.30 C907.10 861.62 919.38 874.82 925.80 879.40 C932.22 883.98 932.22 882.88 939.00 883.80 C945.78 884.72 960.08 884.17 966.50 884.90 C972.92 885.63 973.58 885.92 977.50 888.20 C981.42 890.48 985.50 893.73 990.00 898.60 C994.50 903.47 998.47 911.85 1004.50 917.40 C1010.53 922.95 1019.45 930.93 1026.20 931.90 C1032.95 932.87 1039.47 928.27 1045.00 923.20 C1050.53 918.13 1054.10 910.90 1059.40 901.50 C1064.70 892.10 1071.48 876.92 1076.80 866.80 C1082.12 856.68 1086.48 848.52 1091.30 840.80 C1096.12 833.08 1100.88 826.53 1105.70 820.50 C1110.52 814.47 1113.98 812.12 1120.20 804.60 C1126.42 797.08 1136.45 785.77 1143.00 775.40 C1149.55 765.03 1153.45 752.85 1159.50 742.40 C1165.55 731.95 1172.15 719.98 1179.30 712.70 C1186.45 705.42 1194.70 701.73 1202.40 698.70 C1210.10 695.67 1218.08 694.92 1225.50 694.50 C1232.92 694.08 1238.65 697.70 1246.90 696.20 C1255.15 694.70 1267.03 689.77 1275.00 685.50 C1282.97 681.23 1286.47 673.22 1294.70 670.60 C1302.93 667.98 1316.60 669.82 1324.40 669.80 C1332.20 669.78 1338.65 670.38 1341.50 670.50" fill="none" stroke="#a6a6a6" stroke-width="4.60" stroke-linecap="round" stroke-linejoin="round"/>
<path d="M848.20 848.00 C850.50 847.00 857.50 843.55 862.00 842.00 C866.50 840.45 870.98 838.70 875.20 838.70 C879.42 838.70 883.45 840.17 887.30 842.00 C891.15 843.83 894.27 846.40 898.30 849.70 C902.33 853.00 906.92 858.13 911.50 861.80 C916.08 865.47 921.22 869.68 925.80 871.70 C930.38 873.72 933.13 873.53 939.00 873.90 C944.87 874.27 955.50 873.53 961.00 873.90 C966.50 874.27 968.33 874.45 972.00 876.10 C975.67 877.75 980.00 881.48 983.00 883.80 C986.00 886.12 986.90 886.57 990.00 890.00 C993.10 893.43 997.98 900.07 1001.60 904.40 C1005.22 908.73 1007.85 913.35 1011.70 916.00 C1015.55 918.65 1020.12 920.78 1024.70 920.30 C1029.28 919.82 1034.62 916.72 1039.20 913.10 C1043.78 909.48 1048.35 903.90 1052.20 898.60 C1056.05 893.30 1059.17 887.80 1062.30 881.30 C1065.43 874.80 1067.62 867.32 1071.00 859.60 C1074.38 851.88 1078.50 842.72 1082.60 835.00 C1086.70 827.28 1091.27 819.97 1095.60 813.30 C1099.93 806.63 1103.45 801.38 1108.60 795.00 C1113.75 788.62 1120.77 781.85 1126.50 775.00 C1132.23 768.15 1137.50 761.82 1143.00 753.90 C1148.50 745.98 1153.45 736.02 1159.50 727.50 C1165.55 718.98 1172.70 708.85 1179.30 702.80 C1185.90 696.75 1191.40 693.95 1199.10 691.20 C1206.80 688.45 1217.53 686.85 1225.50 686.30 C1233.47 685.75 1238.65 689.42 1246.90 687.90 C1255.15 686.38 1267.03 681.05 1275.00 677.20 C1282.97 673.35 1287.83 667.42 1294.70 664.80 C1301.57 662.18 1308.48 661.87 1316.20 661.50 C1323.92 661.13 1336.87 662.42 1341.00 662.60" fill="none" stroke="#000" stroke-width="8.70" stroke-linecap="round" stroke-linejoin="round"/>
<polygon points="127.10,217.40 141.00,244.80 131.90,244.80 131.90,285.80 122.30,285.80 122.30,244.80 113.00,244.80" fill="#000"/>
<polygon points="122.50,382.90 131.80,382.90 131.80,423.40 141.20,423.40 127.30,451.40 112.90,423.40 122.50,423.40" fill="#000"/>
<polygon points="127.00,769.40 141.30,796.50 132.20,796.50 132.20,836.70 122.00,836.70 122.00,796.50 113.00,796.50" fill="#000"/>
<polygon points="124.60,906.20 134.00,906.20 134.00,947.00 143.60,947.00 129.50,976.00 115.50,947.00 124.60,947.00" fill="#000"/>
<polygon points="878.30,211.50 892.50,239.20 883.20,239.20 883.20,280.00 873.80,280.00 873.80,239.20 864.40,239.20" fill="#000"/>
<polygon points="872.30,371.50 881.00,371.50 881.00,412.20 890.50,412.20 876.10,439.30 862.00,412.20 872.30,412.20" fill="#000"/>
<polygon points="875.70,758.10 889.70,784.50 880.60,784.50 880.60,825.20 871.10,825.20 871.10,784.50 862.00,784.50" fill="#000"/>
<polygon points="874.20,894.10 883.60,894.10 883.60,935.00 892.70,935.00 878.80,963.10 864.30,935.00 874.20,935.00" fill="#000"/>
<text transform="translate(-0.62 35.70) scale(1.0076 1)" font-size="41.90" font-weight="bold" fill="#000">Population average plots after alignment with peak approaching velocity</text>
<text transform="translate(22.55 100.00) scale(0.9271 1)" font-size="32.96" font-weight="bold" fill="#000" stroke="#000" stroke-width="0.65" stroke-linejoin="round">deg/s</text>
<text transform="translate(143.16 93.18) scale(1.0241 1)" font-size="32.99" fill="#000" stroke="#000" stroke-width="0.44" stroke-linejoin="round">Acute UVL  pass deficit side (“L”)</text>
<text transform="translate(142.70 137.68) scale(1.0458 1)" font-size="32.99" fill="#000" stroke="#000" stroke-width="0.43" stroke-linejoin="round">then veer normal side 45 deg.</text>
<text transform="translate(150.47 193.08) scale(0.9010 1)" font-size="32.99" fill="#000" stroke="#000" stroke-width="0.50" stroke-linejoin="round">Yaw</text>
<text transform="translate(151.01 238.47) scale(1.0529 1)" font-size="32.99" fill="#000" stroke="#000" stroke-width="0.43" stroke-linejoin="round">velocity</text>
<text transform="translate(149.32 283.77) scale(1.0955 1)" font-size="32.99" fill="#000" stroke="#000" stroke-width="0.41" stroke-linejoin="round">right</text>
<text transform="translate(157.80 426.47) scale(1.1348 1)" font-size="32.99" fill="#000" stroke="#000" stroke-width="0.40" stroke-linejoin="round">left</text>
<text transform="translate(507.49 500.07) scale(0.9919 1)" font-size="32.99" fill="#000" stroke="#000" stroke-width="0.45" stroke-linejoin="round">Time (secs)</text>
<text transform="translate(772.45 100.50) scale(0.9211 1)" font-size="32.96" font-weight="bold" fill="#000" stroke="#000" stroke-width="0.65" stroke-linejoin="round">deg/s</text>
<text transform="translate(925.90 93.18) scale(1.0422 1)" font-size="32.99" fill="#000" stroke="#000" stroke-width="0.43" stroke-linejoin="round">Healthy controls  pass left</text>
<text transform="translate(928.20 137.68) scale(1.0502 1)" font-size="32.99" fill="#000" stroke="#000" stroke-width="0.43" stroke-linejoin="round">then veer right 45 deg.</text>
<text transform="translate(902.37 187.28) scale(0.9041 1)" font-size="32.99" fill="#000" stroke="#000" stroke-width="0.50" stroke-linejoin="round">Yaw</text>
<text transform="translate(902.91 232.08) scale(1.0438 1)" font-size="32.99" fill="#000" stroke="#000" stroke-width="0.43" stroke-linejoin="round">velocity</text>
<text transform="translate(901.15 277.97) scale(1.0858 1)" font-size="32.99" fill="#000" stroke="#000" stroke-width="0.41" stroke-linejoin="round">right</text>
<text transform="translate(906.36 414.67) scale(1.1516 1)" font-size="32.99" fill="#000" stroke="#000" stroke-width="0.39" stroke-linejoin="round">left</text>
<text transform="translate(1251.99 498.27) scale(0.9902 1)" font-size="32.99" fill="#000" stroke="#000" stroke-width="0.45" stroke-linejoin="round">Time (secs)</text>
<text transform="translate(120.11 659.90) scale(1.0008 1)" font-size="28.96" font-weight="bold" fill="#000" stroke="#000" stroke-width="0.60" stroke-linejoin="round">deg</text>
<text transform="translate(150.58 729.57) scale(0.8900 1)" font-size="32.99" fill="#000" stroke="#000" stroke-width="0.51" stroke-linejoin="round">Yaw</text>
<text transform="translate(149.09 774.77) scale(1.0255 1)" font-size="32.99" fill="#000" stroke="#000" stroke-width="0.44" stroke-linejoin="round">angle</text>
<text transform="translate(148.09 818.77) scale(1.1101 1)" font-size="32.99" fill="#000" stroke="#000" stroke-width="0.41" stroke-linejoin="round">right</text>
<text transform="translate(159.36 950.48) scale(1.1516 1)" font-size="32.99" fill="#000" stroke="#000" stroke-width="0.39" stroke-linejoin="round">left</text>
<text transform="translate(505.09 1003.57) scale(0.9919 1)" font-size="32.99" fill="#000" stroke="#000" stroke-width="0.45" stroke-linejoin="round">Time (secs)</text>
<text transform="translate(879.30 654.90) scale(1.0070 1)" font-size="28.96" font-weight="bold" fill="#000" stroke="#000" stroke-width="0.60" stroke-linejoin="round">deg</text>
<text transform="translate(898.97 718.27) scale(0.9073 1)" font-size="32.99" fill="#000" stroke="#000" stroke-width="0.50" stroke-linejoin="round">Yaw</text>
<text transform="translate(898.20 763.48) scale(1.0191 1)" font-size="32.99" fill="#000" stroke="#000" stroke-width="0.44" stroke-linejoin="round">angle</text>
<text transform="translate(897.24 808.77) scale(1.0906 1)" font-size="32.99" fill="#000" stroke="#000" stroke-width="0.41" stroke-linejoin="round">right</text>
<text transform="translate(908.90 938.38) scale(1.1372 1)" font-size="32.99" fill="#000" stroke="#000" stroke-width="0.40" stroke-linejoin="round">left</text>
<text transform="translate(1256.89 998.27) scale(0.9902 1)" font-size="32.99" fill="#000" stroke="#000" stroke-width="0.45" stroke-linejoin="round">Time (secs)</text>
</g></svg></body></html>
